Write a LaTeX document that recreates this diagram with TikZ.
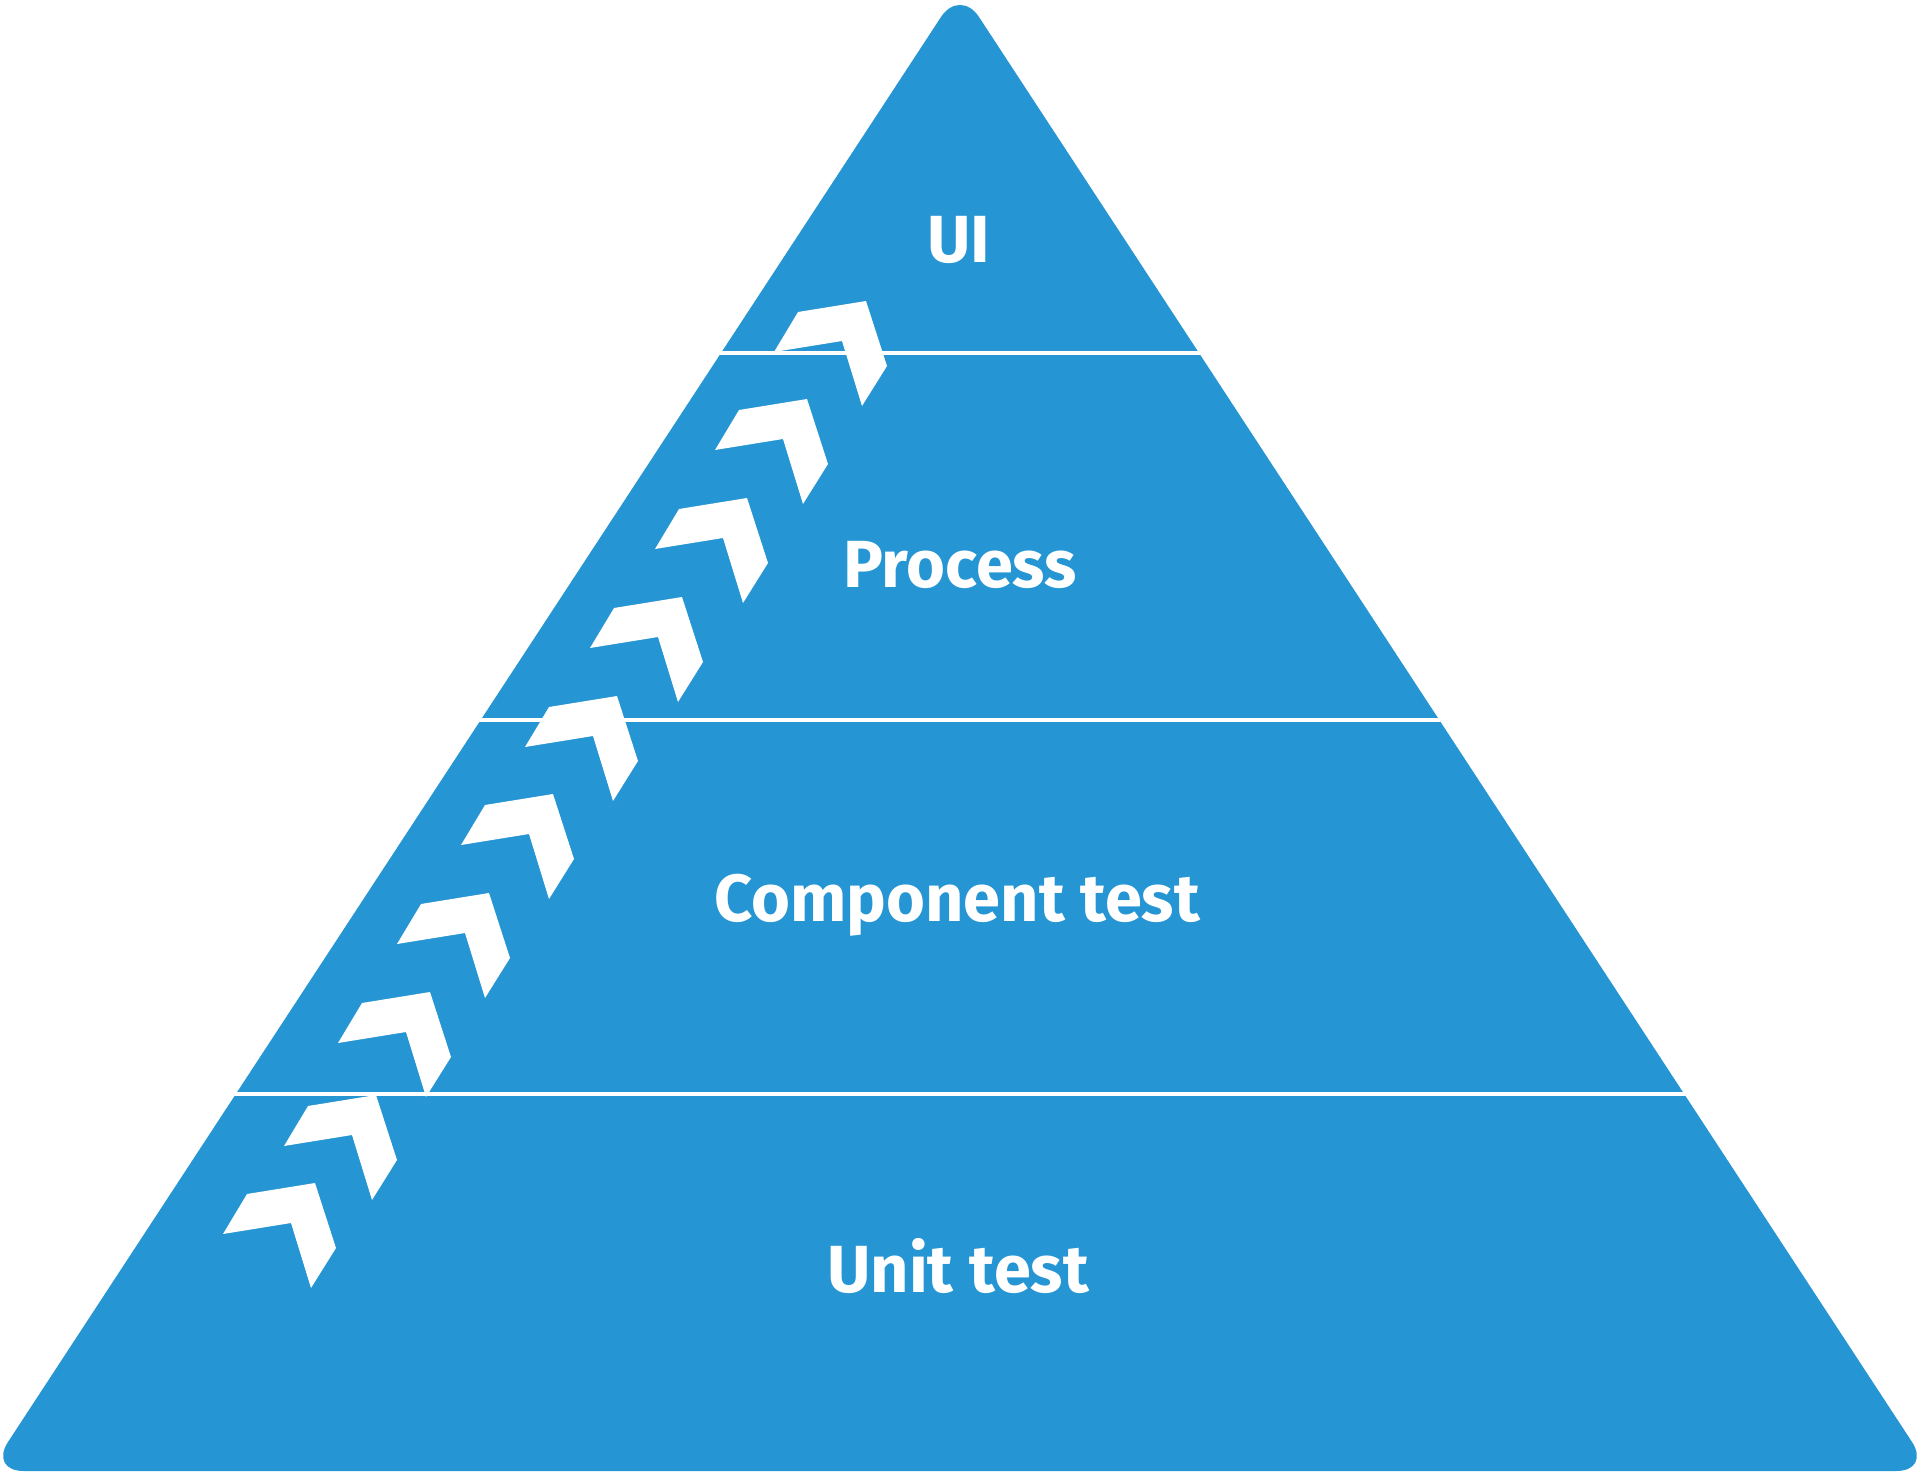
\documentclass[tikz,border=0pt]{standalone}
\usepackage{fontspec}
\setmainfont{Fira Sans}
\definecolor{pyramidblue}{RGB}{38,149,212}

\tikzset{every picture/.style={line width=0.75pt}}
\tikzset{
  chevron/.style={fill=white, draw=none},
  layerline/.style={draw=white, line width=3pt},
  layertext/.style={anchor=base, inner sep=0.75pt, text=white, font=\bfseries\fontsize{50}{60}\selectfont}
}

\begin{document}
\begin{tikzpicture}[x=0.75pt,y=0.75pt,yscale=-1,xscale=1]
        \useasboundingbox (0,0) rectangle (1920,1476);
        %Shape: Triangle
        \fill [pyramidblue, rounded corners=26pt] (960,-12) -- (1931,1471) -- (-11,1471) -- cycle ;

        %Straight Lines
        \draw [layerline]  (714,353) -- (1206,353) ;
        %Straight Lines
        \draw [layerline]  (474,720) -- (1446,720) ;
        %Straight Lines
        \draw [layerline]  (229,1094) -- (1691,1094) ;

        %Shape: Chevron
        \fill [chevron] (774,352) -- (798,312) -- (866,301) -- (887,366) -- (862,406) -- (842,341) -- cycle ;
        %Shape: Chevron
        \fill [chevron] (715,450) -- (739,410) -- (807,399) -- (828,464) -- (803,504) -- (783,439) -- cycle ;
        %Shape: Chevron
        \fill [chevron] (655,549) -- (679,509) -- (747,498) -- (768,563) -- (743,603) -- (723,538) -- cycle ;
        %Shape: Chevron
        \fill [chevron] (590,648) -- (614,608) -- (682,597) -- (703,662) -- (678,702) -- (658,637) -- cycle ;
        %Shape: Chevron
        \fill [chevron] (525,747) -- (549,707) -- (617,696) -- (638,761) -- (613,801) -- (593,736) -- cycle ;
        %Shape: Chevron
        \fill [chevron] (461,845) -- (485,805) -- (553,794) -- (574,859) -- (549,899) -- (529,834) -- cycle ;
        %Shape: Chevron
        \fill [chevron] (397,944) -- (421,904) -- (489,893) -- (510,958) -- (485,998) -- (465,933) -- cycle ;
        %Shape: Chevron
        \fill [chevron] (338,1043) -- (362,1003) -- (430,992) -- (451,1057) -- (426,1097) -- (406,1032) -- cycle ;
        %Shape: Chevron
        \fill [chevron] (284,1146) -- (308,1106) -- (376,1095) -- (397,1160) -- (372,1200) -- (352,1135) -- cycle ;
        %Shape: Chevron
        \fill [chevron] (223,1234) -- (247,1194) -- (315,1183) -- (336,1248) -- (311,1288) -- (291,1223) -- cycle ;

        % Text Node
        \node (ui) [layertext] at (959,263) {UI};
        % Text Node
        \node (process) [layertext] at (960,587) {Process};
        % Text Node
        \node (component) [layertext] at (957,921) {Component test};
        % Text Node
        \node (unit) [layertext] at (958,1292) {Unit test};
\end{tikzpicture}
\end{document}
